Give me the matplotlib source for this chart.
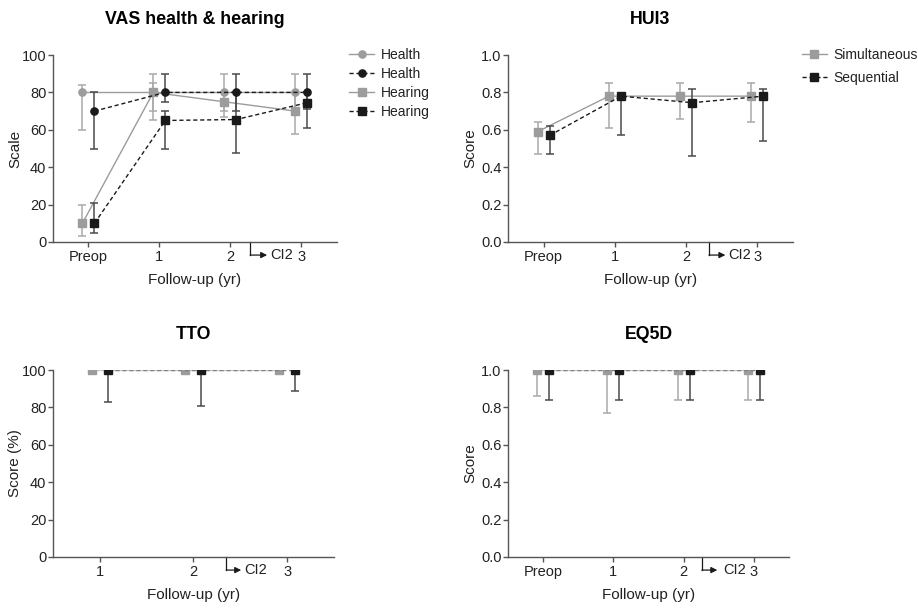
import numpy as np
import matplotlib
matplotlib.use("Agg")
import matplotlib.pyplot as plt

plt.rcParams['font.family'] = ['Liberation Sans', 'DejaVu Sans']
plt.rcParams['font.size'] = 10

# ---- data -------------------------------------------------------------
tp4 = ["Preop", "1", "2", "3"]
tp3 = ["1", "2", "3"]

# VAS (median with interquartile range)
vas_health_sim = [80, 80, 80, 80]
vas_health_sim_lo = [60, 70, 70, 71]
vas_health_sim_hi = [84, 90, 90, 90]
vas_health_seq = [70, 80, 80, 80]
vas_health_seq_lo = [50, 75, 70, 71]
vas_health_seq_hi = [80, 90, 90, 90]
vas_hear_sim = [10, 80, 75, 70]
vas_hear_sim_lo = [3, 65, 67, 58]
vas_hear_sim_hi = [20, 85, 80, 80]
vas_hear_seq = [10, 65, 65.5, 74.5]
vas_hear_seq_lo = [5, 50, 47.5, 61]
vas_hear_seq_hi = [21, 70, 80, 80]

# HUI3
hui_sim = [0.59, 0.78, 0.78, 0.78]
hui_sim_lo = [0.47, 0.61, 0.66, 0.64]
hui_sim_hi = [0.64, 0.85, 0.85, 0.85]
hui_seq = [0.57, 0.78, 0.745, 0.78]
hui_seq_lo = [0.47, 0.57, 0.46, 0.54]
hui_seq_hi = [0.62, 0.78, 0.82, 0.82]

# TTO (%)
tto_sim = [100, 100, 100]
tto_sim_lo = [100, 100, 98]
tto_sim_hi = [100, 100, 100]
tto_seq = [100, 100, 100]
tto_seq_lo = [83, 81, 89]
tto_seq_hi = [100, 100, 100]

# EQ5D
eq_sim = [1.0, 1.0, 1.0, 1.0]
eq_sim_lo = [0.86, 0.77, 0.84, 0.84]
eq_sim_hi = [1.0, 1.0, 1.0, 1.0]
eq_seq = [1.0, 1.0, 1.0, 1.0]
eq_seq_lo = [0.84, 0.84, 0.84, 0.84]
eq_seq_hi = [1.0, 1.0, 1.0, 1.0]

# ---- styling ----------------------------------------------------------
GRAY = "#9c9c9c"
GRAY_ERR = "#aaaaaa"
BLACK = "#1a1a1a"
BLACK_ERR = "#4a4a4a"
SPINE = "#555555"
TEXT = "#222222"
OFF = 0.085


def series(ax, x, y, lo, hi, color, ecolor, marker, ls, label, z,
           lcolor=None):
    y = np.asarray(y, float)
    yerr = [y - np.asarray(lo, float), np.asarray(hi, float) - y]
    ax.errorbar(x, y, yerr=yerr, fmt='none', ecolor=ecolor, elinewidth=1.1,
                capsize=2.6, capthick=1.1, zorder=z)
    ax.plot(x, y, color=lcolor or color, ls=ls, lw=1.0, marker=marker,
            ms=5.2, mfc=color, mec=color, label=label, zorder=z + 1)


def style_axes(ax, xticks, xlabels, xlim, ylim, yticks, ylabel, title,
               yfmt=None):
    for s in ("top", "right"):
        ax.spines[s].set_visible(False)
    for s in ("left", "bottom"):
        ax.spines[s].set_color(SPINE)
        ax.spines[s].set_linewidth(1.0)
    ax.set_xlim(*xlim)
    ax.set_ylim(*ylim)
    ax.set_xticks(xticks)
    ax.set_xticklabels(xlabels)
    ax.set_yticks(yticks)
    if yfmt:
        ax.set_yticklabels([yfmt.format(v) for v in yticks])
    ax.tick_params(direction='out', length=3.5, width=1.0, color=SPINE,
                   labelsize=10.5, labelcolor=TEXT, pad=1.2)
    ax.tick_params(axis='x', pad=2.5)
    ax.set_xlabel("Follow-up (yr)", fontsize=11, color=TEXT, labelpad=6)
    ax.set_ylabel(ylabel, fontsize=11, color=TEXT)
    ax.yaxis.set_label_coords(-0.109, 0.5)
    ax.set_title(title, fontsize=12.8, fontweight='bold', pad=22)


def ci2_marker(ax, x0, x1, xt):
    tr = ax.get_xaxis_transform()
    yb = -0.07
    ax.plot([x0, x0], [0, yb], color=BLACK, lw=0.9, transform=tr,
            clip_on=False)
    ax.annotate("", xy=(x1, yb), xytext=(x0, yb), xycoords=tr,
                textcoords=tr,
                arrowprops=dict(arrowstyle='-|>', color=BLACK, lw=0.9,
                                mutation_scale=9, shrinkA=0, shrinkB=0))
    ax.text(xt, yb, "CI2", transform=tr, ha='left', va='center',
            fontsize=10.5, color=TEXT)


def add_legend(ax, x_anchor, spacing):
    ax.legend(loc='upper left', bbox_to_anchor=(x_anchor, 1.036),
              frameon=False, fontsize=10, handlelength=1.8,
              labelspacing=spacing, handletextpad=0.5, borderpad=0,
              borderaxespad=0, labelcolor=TEXT)


fig = plt.figure(figsize=(9.18, 6.08), dpi=100)
ax1 = fig.add_axes([0.0577, 0.602, 0.309, 0.3075])
ax2 = fig.add_axes([0.5534, 0.602, 0.3105, 0.3075])
ax3 = fig.add_axes([0.0577, 0.0839, 0.306, 0.3075])
ax4 = fig.add_axes([0.5534, 0.0839, 0.306, 0.3075])

x4 = np.arange(len(tp4))
x3 = np.arange(1, len(tp3) + 1)
DASH = (0, (3, 2))

# VAS health & hearing
series(ax1, x4 - OFF, vas_health_sim, vas_health_sim_lo, vas_health_sim_hi,
       GRAY, GRAY_ERR, 'o', '-', "Health", 2)
series(ax1, x4 + OFF, vas_health_seq, vas_health_seq_lo, vas_health_seq_hi,
       BLACK, BLACK_ERR, 'o', DASH, "Health", 4)
series(ax1, x4 - OFF, vas_hear_sim, vas_hear_sim_lo, vas_hear_sim_hi,
       GRAY, GRAY_ERR, 's', '-', "Hearing", 2)
series(ax1, x4 + OFF, vas_hear_seq, vas_hear_seq_lo, vas_hear_seq_hi,
       BLACK, BLACK_ERR, 's', DASH, "Hearing", 4)
style_axes(ax1, x4, tp4, (-0.5, 3.5), (0, 100), np.arange(0, 101, 20),
           "Scale", "VAS health & hearing")
ci2_marker(ax1, 2.28, 2.52, 2.56)
add_legend(ax1, 1.045, 0.36)

# HUI3
series(ax2, x4 - OFF, hui_sim, hui_sim_lo, hui_sim_hi,
       GRAY, GRAY_ERR, 's', '-', "Simultaneous", 2)
series(ax2, x4 + OFF, hui_seq, hui_seq_lo, hui_seq_hi,
       BLACK, BLACK_ERR, 's', DASH, "Sequential", 4)
style_axes(ax2, x4, tp4, (-0.5, 3.5), (0, 1.0), np.arange(0, 1.01, 0.2),
           "Score", "HUI3", yfmt="{:.1f}")
ci2_marker(ax2, 2.32, 2.55, 2.59)
add_legend(ax2, 1.03, 0.6)

# TTO
series(ax3, x3 - OFF, tto_sim, tto_sim_lo, tto_sim_hi,
       GRAY, GRAY_ERR, 's', '-', "Simultaneous", 2, lcolor="#c8c8c8")
series(ax3, x3 + OFF, tto_seq, tto_seq_lo, tto_seq_hi,
       BLACK, BLACK_ERR, 's', DASH, "Sequential", 4, lcolor="#808080")
style_axes(ax3, x3, tp3, (0.5, 3.5), (0, 100), np.arange(0, 101, 20),
           "Score (%)", "TTO")
ci2_marker(ax3, 2.35, 2.51, 2.54)

# EQ5D
series(ax4, x4 - OFF, eq_sim, eq_sim_lo, eq_sim_hi,
       GRAY, GRAY_ERR, 's', '-', "Simultaneous", 2, lcolor="#c8c8c8")
series(ax4, x4 + OFF, eq_seq, eq_seq_lo, eq_seq_hi,
       BLACK, BLACK_ERR, 's', DASH, "Sequential", 4, lcolor="#808080")
style_axes(ax4, x4, tp4, (-0.5, 3.5), (0, 1.0), np.arange(0, 1.01, 0.2),
           "Score", "EQ5D", yfmt="{:.1f}")
ci2_marker(ax4, 2.26, 2.48, 2.57)

fig.savefig("out.png", dpi=100)
